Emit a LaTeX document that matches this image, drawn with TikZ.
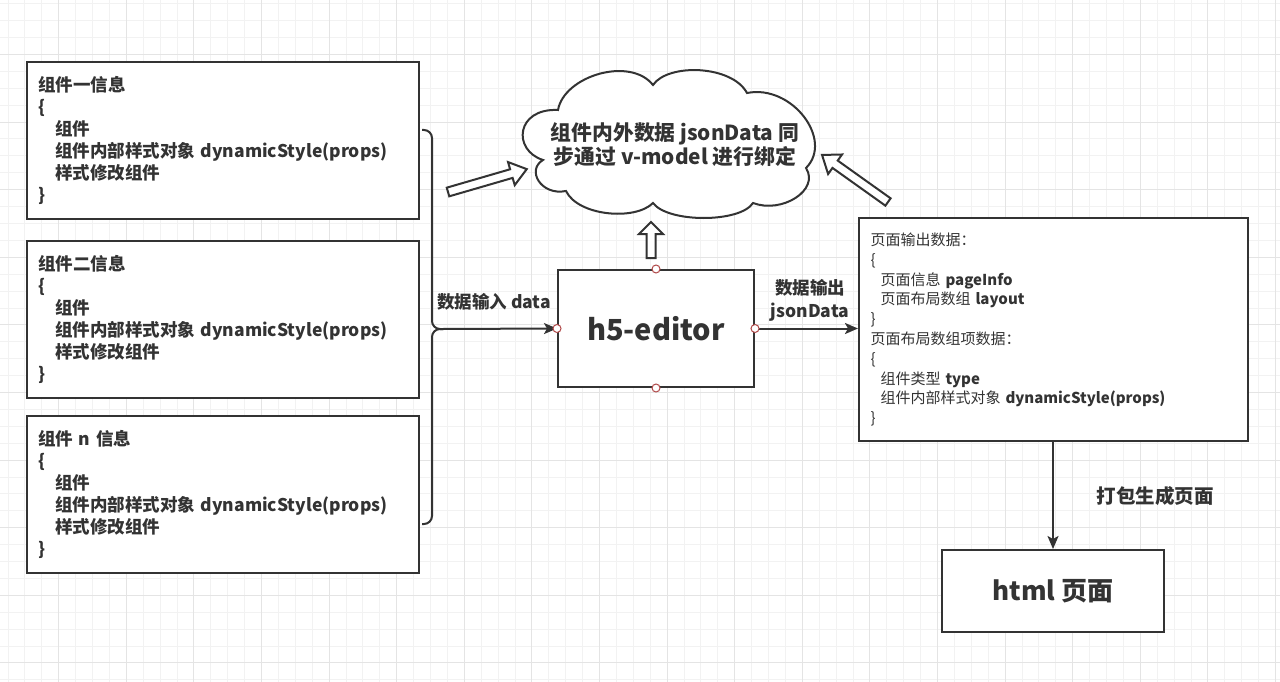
\documentclass[tikz,border=0pt]{standalone}
\usepackage{fontspec}
\setmainfont{Noto Sans CJK SC}
\usetikzlibrary{positioning,arrows.meta}
\definecolor{lineColor}{RGB}{51,51,51}
\definecolor{gridMinorColor}{RGB}{242,242,242}
\definecolor{gridMajorColor}{RGB}{228,228,228}
\definecolor{portColor}{RGB}{176,72,72}
\tikzstyle{diagram} = [x=1pt, y=-1pt]
\tikzstyle{gridMinorLine} = [draw=gridMinorColor, line width=1pt]
\tikzstyle{gridMajorLine} = [draw=gridMajorColor, line width=1pt]
\tikzstyle{boxStyle} = [draw=lineColor, line width=2pt, fill=white, text=lineColor]
\tikzstyle{infoBox} = [boxStyle, anchor=north west, align=left, inner xsep=10pt, minimum width=392pt, minimum height=157pt, text width=370pt, font=\fontsize{17.5}{22}\selectfont\bfseries]
\tikzstyle{outputBox} = [boxStyle, anchor=north west, align=left, inner xsep=11pt, minimum width=389pt, minimum height=223pt, text width=366pt, font=\fontsize{15}{19.8}\selectfont]
\tikzstyle{titleBox} = [boxStyle, font=\bfseries]
\tikzstyle{portStyle} = [circle, draw=portColor, fill=white, line width=1pt, inner sep=0pt, minimum size=8pt]
\tikzstyle{connector} = [draw=lineColor, line width=2pt, -{Stealth[length=13pt, width=11pt, inset=3pt]}]
\tikzstyle{braceLine} = [draw=lineColor, line width=2pt, rounded corners=8pt]
\tikzstyle{cloudStyle} = [draw=lineColor, line width=2pt, fill=white]
\tikzstyle{hollowArrowStyle} = [draw=lineColor, line width=2pt, fill=white, line join=miter]
\tikzstyle{labelStyle} = [text=lineColor, align=center, font=\fontsize{17.5}{23}\selectfont\bfseries]
\newcommand{\indentLine}{\hspace*{17pt}}
\newcommand{\smallIndent}{\hspace*{10pt}}
\newcommand{\backgroundGrid}{
  \foreach \column in {0,...,75} {
    \draw [gridMinorLine] ({8 + 16.9 * \column}, 0) -- +(0, 682);
  }
  \foreach \row in {0,...,40} {
    \draw [gridMinorLine] (0, {3.8 + 16.9 * \row}) -- +(1280, 0);
  }
  \foreach \column in {0,...,19} {
    \draw [gridMajorLine] ({-8.9 + 67.6 * \column}, 0) -- +(0, 682);
  }
  \foreach \row in {0,...,9} {
    \draw [gridMajorLine] (0, {54.5 + 67.6 * \row}) -- +(1280, 0);
  }
}
\newcommand{\hollowArrow}[4]{
  \begin{scope}[shift={(#1)}, rotate=#2]
    \draw [hollowArrowStyle] (0, -4.5) -- ({#3 - #4}, -4.5) -- ({#3 - #4}, -12) -- (#3, 0)
      -- ({#3 - #4}, 12) -- ({#3 - #4}, 4.5) -- (0, 4.5) -- cycle;
  \end{scope}
}
\begin{document}
\begin{tikzpicture}[diagram]
  \useasboundingbox [fill=white] (0,0) rectangle (1280,682);
  \backgroundGrid

  \node [infoBox] (infoOne) at (26,61) {组件一信息\\\{\\\indentLine 组件\\\indentLine 组件内部样式对象 dynamicStyle(props)\\\indentLine 样式修改组件\\\}};
  \node [infoBox] (infoTwo) at (26,240) {组件二信息\\\{\\\indentLine 组件\\\indentLine 组件内部样式对象 dynamicStyle(props)\\\indentLine 样式修改组件\\\}};
  \node [infoBox] (infoN) at (26,415) {组件 n 信息\\\{\\\indentLine 组件\\\indentLine 组件内部样式对象 dynamicStyle(props)\\\indentLine 样式修改组件\\\}};

  \draw [braceLine] (422,130) -| (432,329) -- (443,329);
  \draw [braceLine] (443,329) -| (432,524) -- (422,524);
  \coordinate (braceTip) at (443,329);

  \node [titleBox, minimum width=196pt, minimum height=117pt, font=\fontsize{29}{34}\selectfont\bfseries] (editor) at (656,328.5) {h5-editor};

  \node [outputBox] (pageOutput) at (858,217) {页面输出数据：\\\{\\\smallIndent 页面信息 \textbf{pageInfo}\\\smallIndent 页面布局数组 \textbf{layout}\\\}\\页面布局数组项数据：\\\{\\\smallIndent 组件类型 \textbf{type}\\\smallIndent 组件内部样式对象 \textbf{dynamicStyle(props)}\\\}};

  \node [titleBox, minimum width=222pt, minimum height=82pt, font=\fontsize{26}{30}\selectfont\bfseries] (htmlPage) at (1053,591) {html 页面};

  \draw [cloudStyle] (558,110) .. controls (564,76) and (630,56) .. (653,85)
    .. controls (668,63) and (732,65) .. (747,93)
    .. controls (792,84) and (834,140) .. (806,168)
    .. controls (820,190) and (782,214) .. (753,203)
    .. controls (740,223) and (668,223) .. (653,203)
    .. controls (635,221) and (578,216) .. (566,191)
    .. controls (541,196) and (526,170) .. (543,160)
    .. controls (512,150) and (516,108) .. (558,110) -- cycle;
  \node [labelStyle, font=\fontsize{20.8}{24}\selectfont\bfseries] (cloudText) at (675,145) {组件内外数据 jsonData 同\\步通过 v-model 进行绑定};

  \hollowArrow{448,192}{16.2}{82}{16}
  \hollowArrow{651,258}{90}{36}{12}
  \hollowArrow{888,202}{144.5}{81}{16}

  \draw [connector] (braceTip) -- (editor.west);
  \draw [connector] (editor.east) -- (pageOutput.west |- editor.east);
  \draw [connector] (pageOutput.south -| htmlPage.north) -- (htmlPage.north);

  \node [labelStyle] (inputLabel) at (494,302) {数据输入 data};
  \node [labelStyle] (outputLabel) at (810,300) {数据输出\\jsonData};
  \node [labelStyle, font=\fontsize{19.5}{23}\selectfont\bfseries] (packLabel) at (1155,496) {打包生成页面};

  \node [portStyle] (portNorth) at (editor.north) {};
  \node [portStyle] (portWest) at (editor.west) {};
  \node [portStyle] (portEast) at (editor.east) {};
  \node [portStyle] (portSouth) at (editor.south) {};
\end{tikzpicture}
\end{document}
